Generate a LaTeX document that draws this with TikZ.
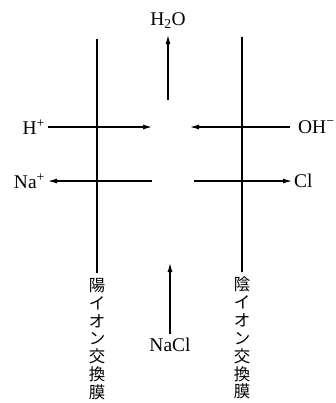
\documentclass[tikz,border=0pt]{standalone}
\usepackage{fontspec}
\setmainfont{Liberation Serif}
\newfontfamily\jp{Noto Sans CJK JP}
\usetikzlibrary{arrows.meta}
\begin{document}
\begin{tikzpicture}[x=1bp,y=-1bp,
  font=\fontsize{19.5}{21}\selectfont,
  membrane/.style={line width=1.5bp},
  flow/.style={line width=1.1bp,-{Latex[length=9bp,width=5bp]}},
  lbl/.style={inner sep=0pt},
  vlabel/.style={font=\jp\fontsize{16.5}{17.9}\selectfont, align=center, inner sep=0pt, anchor=north}]
\useasboundingbox (0,0) rectangle (336,403);
% membranes
\coordinate (mLt) at (97,39);
\coordinate (mLb) at (97,273);
\coordinate (mRt) at (242,37);
\coordinate (mRb) at (242,272);
\draw[membrane] (mLt) -- (mLb);
\draw[membrane] (mRt) -- (mRb);
% labels
\node[lbl] (h2o) at (168,21) {H\textsubscript{2}O};
\node[lbl,anchor=east] (hp) at (45,127) {H\textsuperscript{+}};
\node[lbl,anchor=west] (oh) at (298,127) {OH\textsuperscript{−}};
\node[lbl,anchor=east] (nap) at (45,181) {Na\textsuperscript{+}};
\node[lbl,anchor=west] (cl) at (294,181) {Cl};
\node[lbl] (nacl) at (170,345) {NaCl};
\node[vlabel] (cation) at (97,278) {陽\\イ\\オ\\ン\\交\\換\\膜};
\node[vlabel] (anion) at (242,277) {陰\\イ\\オ\\ン\\交\\換\\膜};
% free arrow ends in the middle chamber
\coordinate (h2oS) at (168,100);
\coordinate (hpE) at (152,127);
\coordinate (ohE) at (190,127);
\coordinate (napS) at (152,181);
\coordinate (clS) at (194,181);
\coordinate (naclE) at (170,263);
% arrows
\draw[flow,shorten >=6bp] (h2oS) -- (h2o.south);
\draw[flow,shorten <=3bp] (hp.east |- hpE) -- (hpE);
\draw[flow,shorten <=8bp] (oh.west |- ohE) -- (ohE);
\draw[flow,shorten >=3bp] (napS) -- (nap.east |- napS);
\draw[flow,shorten >=2bp] (clS) -- (cl.west |- clS);
\draw[flow,shorten <=4bp] (nacl.north) -- (naclE);
\end{tikzpicture}
\end{document}
